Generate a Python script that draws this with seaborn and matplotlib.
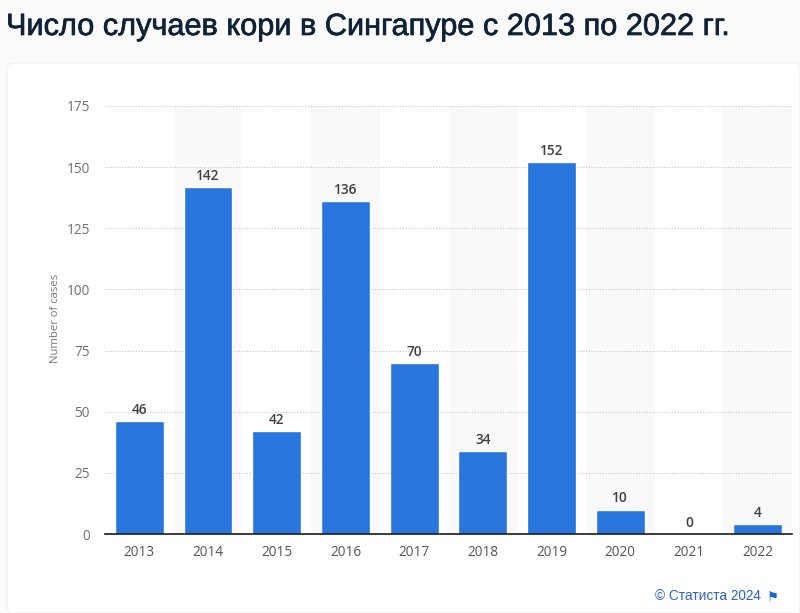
import matplotlib
matplotlib.use("Agg")
import matplotlib.pyplot as plt
import matplotlib.patheffects as pe
from matplotlib.patches import FancyBboxPatch
import pandas as pd
import seaborn as sns

years = ["2013", "2014", "2015", "2016", "2017", "2018", "2019", "2020", "2021", "2022"]
cases = [46, 142, 42, 136, 70, 34, 152, 10, 0, 4]
y_ticks = [0, 25, 50, 75, 100, 125, 150, 175]

title = "Число случаев кори в Сингапуре с 2013 по 2022 гг."
y_label = "Number of cases"
credit = "© Статиста 2024"

W, H = 800, 613
BLUE = "#2975de"

sns.set_theme(style="white")
plt.rcParams["font.family"] = ["Open Sans", "DejaVu Sans"]

df = pd.DataFrame({"year": years, "cases": cases})

fig = plt.figure(figsize=(W / 100, H / 100), dpi=100, facecolor="#fbfbfc")

# white card behind the chart
card = FancyBboxPatch((7, H - 613), 793, 550, boxstyle="round,pad=0,rounding_size=6",
                      transform=None, facecolor="white", edgecolor="#f1f2f4", linewidth=1, zorder=-1)
fig.patches.append(card)

ax = fig.add_axes([105 / W, 1 - 534 / H, 687 / W, 428 / H])
ax.patch.set_alpha(0)

sns.barplot(data=df, x="year", y="cases", color=BLUE, saturation=1, width=0.71, ax=ax, zorder=3)

# alternating bands
for i in range(1, len(years), 2):
    ax.axvspan(i - 0.5, i + 0.5, facecolor="#f9f9f9", edgecolor="none", zorder=0)

ax.set_xlim(-0.5, len(years) - 0.5)
ax.set_ylim(0, 175)
ax.set_yticks(y_ticks)
ax.yaxis.grid(True, linestyle=(0, (1, 1.5)), color="#c4c4c4", linewidth=0.8, zorder=1)
ax.set_axisbelow(False)
for line in ax.get_ygridlines():
    line.set_zorder(1)

for spine in ["top", "left", "right"]:
    ax.spines[spine].set_visible(False)
ax.spines["bottom"].set_color("#1a1a1a")
ax.spines["bottom"].set_linewidth(1.2)
ax.spines["bottom"].set_zorder(5)

ax.tick_params(axis="x", length=0, pad=8, labelsize=9.8, labelcolor="#555555")
ax.tick_params(axis="y", length=0, pad=11, labelsize=9.8, labelcolor="#707070")
ax.set_xlabel("")
ax.set_ylabel(y_label, fontsize=8.1, color="#777777")
ax.yaxis.set_label_coords(-44 / 687, 0.5 + 2 / 428)

for i, v in enumerate(cases):
    ax.annotate(str(v), (i, v), xytext=(0, 3), textcoords="offset points", ha="center", va="bottom",
                fontsize=9.8, fontweight="semibold", color="#3f3f3f", zorder=6)

title_text = fig.text(6 / W, 1 - 27 / H, title, family=["Liberation Sans"], fontsize=22.1, color="#0f2338",
                      ha="left", va="center")
title_text.set_path_effects([pe.withStroke(linewidth=0.5, foreground="#0f2338")])
fig.text(761 / W, 1 - 596 / H, credit, family=["Liberation Sans"], fontsize=9.8, color="#2a62c4",
         ha="right", va="center")
# small flag mark next to the credit
fig.text(773 / W, 1 - 597 / H, "⚑", family=["DejaVu Sans"], fontsize=9.5, color="#1565d8",
         ha="center", va="center")

fig.savefig("out.png", dpi=100, facecolor=fig.get_facecolor())
